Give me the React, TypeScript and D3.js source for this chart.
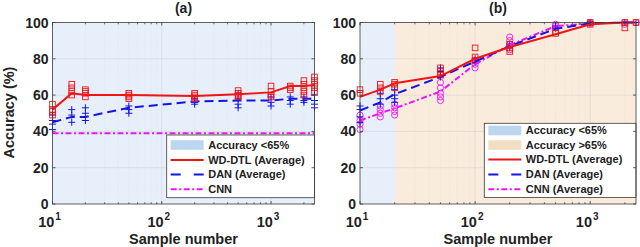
import React from "react";
import * as d3 from "d3";

// ---------- data ----------
const samplesA = [10, 15, 20, 50, 200, 500, 1000, 1500, 2000, 2500];
const wdAvgA = [52, 61, 60, 60, 59.5, 60.5, 61.5, 65, 65, 65.5];
const danAvgA = [45, 48, 48, 53, 56.5, 57, 57, 58, 58, 58];
const cnnA = [39, 39, 39, 39, 39, 39, 39, 39, 39, 39];
const wdRunsA = [
  [55, 52, 49, 51],
  [66, 64, 62, 60],
  [63, 61, 59, 62],
  [61, 59, 58, 60],
  [61, 60, 58, 59],
  [62.5, 61, 59, 60],
  [65, 62, 60, 59],
  [65, 64, 63],
  [68, 66, 64, 62, 60],
  [70, 68, 66, 64, 62],
];
const danRunsA = [
  [49, 46, 44, 41],
  [52, 49, 45],
  [53, 50, 46],
  [54, 52, 50],
  [58, 56, 55],
  [61, 58, 55, 53],
  [59, 56, 54],
  [59, 57, 55],
  [59, 57, 56],
  [60, 57, 55, 53],
];

const samplesB = [10, 15, 20, 50, 100, 200, 500, 1000, 2000, 2500];
const wdAvgB = [59, 63, 66.5, 70.5, 80, 86.5, 93.5, 99, 100, 100];
const danAvgB = [51.5, 56, 60.5, 70, 78.5, 87, 96.5, 99.5, 100, 100];
const cnnAvgB = [46, 50, 52.7, 62, 77, 87.5, 98, 99.5, 100, 100];
const wdRunsB = [
  [63, 61],
  [66, 64, 62],
  [67, 66, 64],
  [75, 73, 71],
  [86, 81, 79],
  [88, 86, 84],
  [94, 95],
  [99, 100],
  [97, 100],
  [100],
];
const danRunsB = [
  [54, 52, 48, 45],
  [61, 58, 55],
  [63, 60, 58, 56],
  [75, 73, 70],
  [80, 78],
  [88, 86],
  [97, 98],
  [100],
  [100],
  [100],
];
const cnnRunsB = [
  [49, 46, 44, 41],
  [54, 52, 50, 48],
  [55, 53, 51, 49],
  [67, 64, 61, 59, 57],
  [79, 77, 75],
  [92, 90, 88, 85],
  [99, 98, 97],
  [100, 99.5],
  [100, 99],
  [100],
];

const yTicks = [0, 20, 40, 60, 80, 100];
const xMajor = [10, 100, 1000];
const xExp = ["1", "2", "3"];
const xDomain = [10, 2500];
const yDomain = [0, 100];

// ---------- styles ----------
const RED = "#f01414";
const BLUE = "#1414e6";
const MAG = "#f014f0";
const BG_BLUE = "#e7f0fa";
const BG_BEIGE = "#faecdc";
const PATCH_BLUE = "#bdd6ef";
const PATCH_BEIGE = "#f2dfc3";
const FONT = "'Liberation Sans', Arial, Helvetica, sans-serif";

const minorTicks: number[] = [];
[10, 100, 1000].forEach((d) => {
  for (let k = 2; k <= 9; k++) {
    const v = d * k;
    if (v <= 2500) minorTicks.push(v);
  }
});

type PanelProps = {
  left: number;
  right: number;
  top: number;
  bottom: number;
  title: string;
  samples: number[];
  split?: number;
  children: (x: d3.ScaleLogarithmic<number, number>, y: d3.ScaleLinear<number, number>) => React.ReactNode;
};

function Panel({ left, right, top, bottom, title, split, children }: PanelProps) {
  const x = d3.scaleLog().domain(xDomain).range([left, right]);
  const y = d3.scaleLinear().domain(yDomain).range([bottom, top]);
  const cx = (left + right) / 2;
  return (
    <g>
      {split === undefined ? (
        <rect x={left} y={top} width={right - left} height={bottom - top} fill={BG_BLUE} />
      ) : (
        <g>
          <rect x={left} y={top} width={x(split) - left} height={bottom - top} fill={BG_BLUE} />
          <rect x={x(split)} y={top} width={right - x(split)} height={bottom - top} fill={BG_BEIGE} />
        </g>
      )}
      {/* grid */}
      {yTicks.slice(1, -1).map((t) => (
        <line key={"gy" + t} x1={left} x2={right} y1={y(t)} y2={y(t)} stroke="#9aa4b4" strokeOpacity={0.35} strokeWidth={0.6} />
      ))}
      {xMajor.slice(1).map((t) => (
        <line key={"gx" + t} x1={x(t)} x2={x(t)} y1={top} y2={bottom} stroke="#9aa4b4" strokeOpacity={0.35} strokeWidth={0.6} />
      ))}
      {minorTicks.map((t) => (
        <line key={"gm" + t} x1={x(t)} x2={x(t)} y1={top} y2={bottom} stroke="#9aa4b4" strokeOpacity={0.25} strokeWidth={0.6} strokeDasharray="1,2" />
      ))}
      {children(x, y)}
      {/* box */}
      <rect x={left} y={top} width={right - left} height={bottom - top} fill="none" stroke="#3a3a3a" strokeWidth={0.8} />
      {/* ticks */}
      {yTicks.map((t) => (
        <g key={"ty" + t}>
          <line x1={left} x2={left + 3} y1={y(t)} y2={y(t)} stroke="#3a3a3a" strokeWidth={0.8} />
          <line x1={right} x2={right - 3} y1={y(t)} y2={y(t)} stroke="#3a3a3a" strokeWidth={0.8} />
          <text x={left - 4} y={y(t)} dy="0.36em" textAnchor="end" fontFamily={FONT} fontWeight="bold" fontSize={14} fill="#222">
            {t}
          </text>
        </g>
      ))}
      {xMajor.map((t) => (
        <g key={"tx" + t}>
          <line x1={x(t)} x2={x(t)} y1={bottom} y2={bottom - 3} stroke="#3a3a3a" strokeWidth={0.8} />
          <line x1={x(t)} x2={x(t)} y1={top} y2={top + 3} stroke="#3a3a3a" strokeWidth={0.8} />
        </g>
      ))}
      {minorTicks.map((t) => (
        <g key={"tm" + t}>
          <line x1={x(t)} x2={x(t)} y1={bottom} y2={bottom - 1.8} stroke="#3a3a3a" strokeWidth={0.7} />
          <line x1={x(t)} x2={x(t)} y1={top} y2={top + 1.8} stroke="#3a3a3a" strokeWidth={0.7} />
        </g>
      ))}
      {xMajor.map((t, i) => (
        <text key={"lx" + t} x={x(t) - 3} y={226.5} textAnchor="middle" fontFamily={FONT} fontWeight="bold" fontSize={14.5} fill="#222">
          10
          <tspan dx={1} dy={-7} fontSize={10}>
            {xExp[i]}
          </tspan>
        </text>
      ))}
      <text x={cx} y={243.5} textAnchor="middle" fontFamily={FONT} fontWeight="bold" fontSize={14.5} fill="#222">
        Sample number
      </text>
      <text x={cx} y={13} textAnchor="middle" fontFamily={FONT} fontWeight="bold" fontSize={14} fill="#222">
        {title}
      </text>
    </g>
  );
}

function Squares({ x, y, samples, runs }: any) {
  return (
    <g>
      {samples.map((s: number, i: number) =>
        runs[i].map((v: number, j: number) => (
          <rect key={i + "-" + j} x={x(s) - 2.8} y={y(v) - 2.8} width={5.6} height={5.6} fill="none" stroke={RED} strokeWidth={0.9} />
        ))
      )}
    </g>
  );
}
function Pluses({ x, y, samples, runs }: any) {
  return (
    <g>
      {samples.map((s: number, i: number) =>
        runs[i].map((v: number, j: number) => (
          <path key={i + "-" + j} d={`M${x(s) - 3.5},${y(v)}h7M${x(s)},${y(v) - 3.5}v7`} stroke={BLUE} strokeWidth={1} fill="none" />
        ))
      )}
    </g>
  );
}
function Circles({ x, y, samples, runs }: any) {
  return (
    <g>
      {samples.map((s: number, i: number) =>
        runs[i].map((v: number, j: number) => (
          <circle key={i + "-" + j} cx={x(s)} cy={y(v)} r={3.1} fill="none" stroke={MAG} strokeWidth={0.9} />
        ))
      )}
    </g>
  );
}

function Line({ x, y, samples, vals, color, dash }: any) {
  const gen = d3
    .line<number>()
    .x((_, i) => x(samples[i]))
    .y((d) => y(d));
  return <path d={gen(vals) || ""} fill="none" stroke={color} strokeWidth={2} strokeDasharray={dash} />;
}

function Legend({ x0, y0, x1, y1, items }: any) {
  return (
    <g>
      <rect x={x0} y={y0} width={x1 - x0} height={y1 - y0} fill="#fff" stroke="#3a3a3a" strokeWidth={0.8} />
      {items.map((it: any, i: number) => {
        const yy = it.y;
        const sx0 = x0 + 4;
        const sx1 = x0 + 37;
        return (
          <g key={i}>
            {it.kind === "patch" ? (
              <rect x={sx0} y={yy - 4.8} width={sx1 - sx0} height={9.6} fill={it.color} />
            ) : (
              <line x1={sx0} x2={sx1} y1={yy} y2={yy} stroke={it.color} strokeWidth={2} strokeDasharray={it.dash} />
            )}
            <text x={x0 + 41.5} y={yy} dy="0.36em" fontFamily={FONT} fontWeight="bold" fontSize={11} fill="#222">
              {it.label}
            </text>
          </g>
        );
      })}
    </g>
  );
}

const DAN_DASH = "9,5";
const CNN_DASH = "6,2.5,2,2.5";

export default function App() {
  return (
    <svg width={640} height={247} style={{ position: "absolute", left: 0, top: 0, background: "#fff" }}>
      <Panel left={52.5} right={314.5} top={22.5} bottom={204} title="(a)" samples={samplesA}>
        {(x, y) => (
          <g>
            <Line x={x} y={y} samples={samplesA} vals={cnnA} color={MAG} dash={CNN_DASH} />
            <Pluses x={x} y={y} samples={samplesA} runs={danRunsA} />
            <Line x={x} y={y} samples={samplesA} vals={danAvgA} color={BLUE} dash={DAN_DASH} />
            <Squares x={x} y={y} samples={samplesA} runs={wdRunsA} />
            <Line x={x} y={y} samples={samplesA} vals={wdAvgA} color={RED} />
            <Legend
              x0={166.7}
              y0={135}
              x1={314.5}
              y1={197.7}
              items={[
                { kind: "patch", color: PATCH_BLUE, label: "Accuracy <65%", y: 145 },
                { kind: "line", color: RED, label: "WD-DTL (Average)", y: 160 },
                { kind: "line", color: BLUE, dash: "10,13", label: "DAN  (Average)", y: 174.5 },
                { kind: "line", color: MAG, dash: CNN_DASH, label: "CNN", y: 189.3 },
              ]}
            />
          </g>
        )}
      </Panel>
      <Panel left={360} right={636} top={22.5} bottom={204} title="(b)" samples={samplesB} split={20}>
        {(x, y) => (
          <g>
            <Circles x={x} y={y} samples={samplesB} runs={cnnRunsB} />
            <Pluses x={x} y={y} samples={samplesB} runs={danRunsB} />
            <Squares x={x} y={y} samples={samplesB} runs={wdRunsB} />
            <Line x={x} y={y} samples={samplesB} vals={cnnAvgB} color={MAG} dash={CNN_DASH} />
            <Line x={x} y={y} samples={samplesB} vals={danAvgB} color={BLUE} dash={DAN_DASH} />
            <Line x={x} y={y} samples={samplesB} vals={wdAvgB} color={RED} />
            <Legend
              x0={484.3}
              y0={123.3}
              x1={636}
              y1={197.5}
              items={[
                { kind: "patch", color: PATCH_BLUE, label: "Accuracy <65%", y: 130.5 },
                { kind: "patch", color: PATCH_BEIGE, label: "Accuracy >65%", y: 145 },
                { kind: "line", color: RED, label: "WD-DTL (Average)", y: 159.5 },
                { kind: "line", color: BLUE, dash: "10,13", label: "DAN (Average)", y: 174.5 },
                { kind: "line", color: MAG, dash: CNN_DASH, label: "CNN (Average)", y: 189.3 },
              ]}
            />
          </g>
        )}
      </Panel>
      <text
        transform="translate(13.5,112.5) rotate(-90)"
        textAnchor="middle"
        fontFamily={FONT}
        fontWeight="bold"
        fontSize={14.5}
        fill="#222"
      >
        Accuracy (%)
      </text>
    </svg>
  );
}
